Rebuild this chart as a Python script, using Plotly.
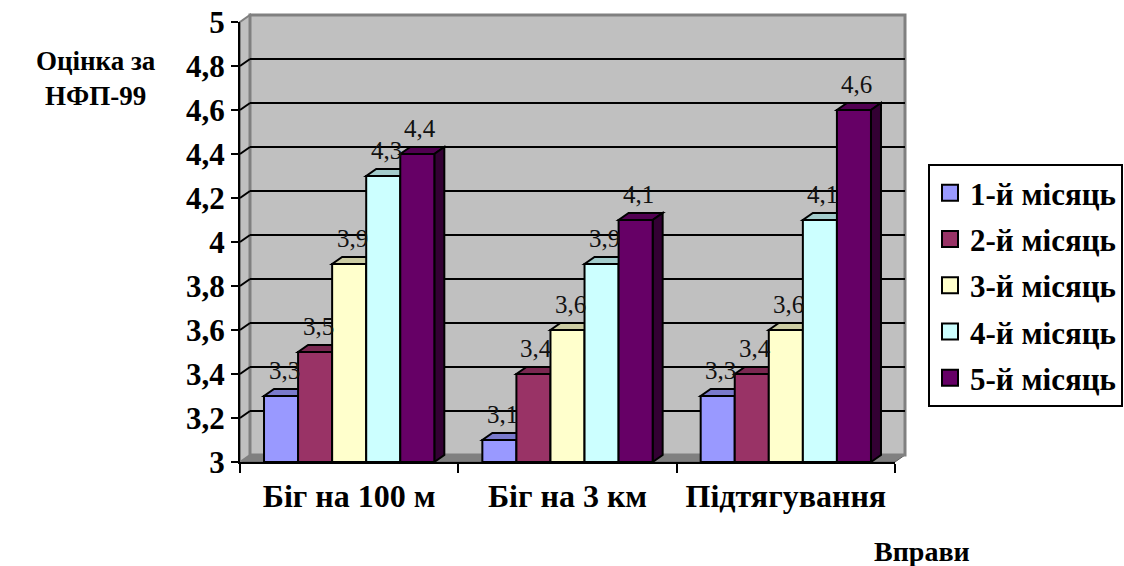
import plotly.graph_objects as go

# ---------------- data ----------------
categories = ["Біг на 100 м", "Біг на 3 км", "Підтягування"]
series_names = ["1-й місяць", "2-й місяць", "3-й місяць", "4-й місяць", "5-й місяць"]
month1 = [3.3, 3.1, 3.3]
month2 = [3.5, 3.4, 3.4]
month3 = [3.9, 3.6, 3.6]
month4 = [4.3, 3.9, 4.1]
month5 = [4.4, 4.1, 4.6]
series_values = [month1, month2, month3, month4, month5]
y_ticks = [3, 3.2, 3.4, 3.6, 3.8, 4, 4.2, 4.4, 4.6, 4.8, 5]
y_title = "Оцінка за<br>НФП-99"
x_title = "Вправи"

# ---------------- style ----------------
colors = ["#9999FF", "#993366", "#FFFFCC", "#CCFFFF", "#660066"]
FONT = "Liberation Serif, Times New Roman, serif"
W, H = 1124, 566
L, R, T, B = 240, 229, 22, 104
PW, PH = W - L - R, H - T - B
DX, DY = 10, 7           # depth of the 3D effect in pixels
YMIN, YMAX = 3, 5
BARGAP = 0.22
n_ser = len(series_names)
bw = (1 - BARGAP) / n_ser
dx = DX * len(categories) / PW
dy = DY * (YMAX - YMIN) / PH


def shade(hx, f):
    hx = hx.lstrip("#")
    r, g, b = (int(hx[i:i + 2], 16) for i in (0, 2, 4))
    return "#%02x%02x%02x" % (int(r * f), int(g * f), int(b * f))


fig = go.Figure()
shapes = []
annotations = []

# walls / floor (paper coordinates)
px = lambda p: p / PW
py = lambda p: p / PH
shapes.append(dict(type="path", xref="paper", yref="paper", layer="below",
                   path=f"M0,0 L1,0 L{1 + px(DX)},{py(DY)} L{px(DX)},{py(DY)} Z",
                   fillcolor="#808080", line=dict(color="#606060", width=1)))
shapes.append(dict(type="path", xref="paper", yref="paper", layer="below",
                   path=f"M0,0 L0,1 L{px(DX)},{1 + py(DY)} L{px(DX)},{py(DY)} Z",
                   fillcolor="#c0c0c0", line=dict(color="#808080", width=2)))
shapes.append(dict(type="rect", xref="paper", yref="paper", layer="below",
                   x0=px(DX), x1=1 + px(DX), y0=py(DY), y1=1 + py(DY),
                   fillcolor="#c0c0c0", line=dict(color="#808080", width=3)))

# gridlines on the back wall + diagonals on the side wall
for v in y_ticks[1:-1]:
    shapes.append(dict(type="line", xref="paper", yref="y", layer="below",
                       ysizemode="pixel", yanchor=v, y0=DY, y1=DY,
                       x0=px(DX), x1=1 + px(DX),
                       line=dict(color="black", width=2)))
    shapes.append(dict(type="line", xref="paper", yref="y", layer="below",
                       ysizemode="pixel", yanchor=v, y0=0, y1=DY,
                       x0=0, x1=px(DX),
                       line=dict(color="black", width=2)))

# bars (front faces) + 3D top/side faces + value labels
for j, (name, vals) in enumerate(zip(series_names, series_values)):
    fig.add_trace(go.Bar(x=categories, y=[v - YMIN for v in vals], base=YMIN,
                         name=name, showlegend=False, hoverinfo="skip",
                         marker=dict(color=colors[j], line=dict(color="black", width=2))))
    for i, v in enumerate(vals):
        xc = i - (1 - BARGAP) / 2 + bw * (j + 0.5)
        xl, xr = xc - bw / 2, xc + bw / 2
        shapes.append(dict(type="path", xref="x", yref="y", layer="between",
                           path=f"M{xl},{v} L{xr},{v} L{xr + dx},{v + dy} L{xl + dx},{v + dy} Z",
                           fillcolor=shade(colors[j], 0.8), line=dict(color="black", width=2)))
        shapes.append(dict(type="path", xref="x", yref="y", layer="between",
                           path=f"M{xr},{YMIN} L{xr},{v} L{xr + dx},{v + dy} L{xr + dx},{YMIN + dy} Z",
                           fillcolor=shade(colors[j], 0.5), line=dict(color="black", width=2)))
        annotations.append(dict(x=xc, y=v, xref="x", yref="y", showarrow=False,
                                xanchor="center", yanchor="middle",
                                text=f"{v:g}".replace(".", ","), xshift=3, yshift=26,
                                font=dict(family=FONT, size=25, color="#111111")))

# legend entries
for j, name in enumerate(series_names):
    fig.add_trace(go.Scatter(x=[None], y=[None], mode="markers", name=name,
                             legendgroup=name, hoverinfo="skip",
                             marker=dict(symbol="square", size=16, color=colors[j],
                                         line=dict(color="black", width=2))))

annotations.append(dict(x=(96 - L) / PW, y=(H - B - 79) / PH, xref="paper", yref="paper",
                        xanchor="center", yanchor="middle",
                        showarrow=False, text=y_title, align="center",
                        font=dict(family=FONT, size=27, color="black", weight="bold")))
annotations.append(dict(x=(922 - L) / PW, y=(H - B - 551) / PH, xref="paper", yref="paper",
                        xanchor="center", yanchor="middle",
                        showarrow=False, text=x_title,
                        font=dict(family=FONT, size=28, color="black", weight="bold")))

fig.update_layout(
    width=W, height=H,
    margin=dict(l=L, r=R, t=T, b=B, autoexpand=False),
    paper_bgcolor="white", plot_bgcolor="rgba(0,0,0,0)",
    barmode="group", bargap=BARGAP, bargroupgap=0,
    separators=", ",
    shapes=shapes, annotations=annotations,
    showlegend=True,
    legend=dict(x=(928 - L) / PW, y=(H - B - 164) / PH, xanchor="left", yanchor="top",
                bordercolor="black", borderwidth=2, bgcolor="white",
                tracegroupgap=3,
                font=dict(family=FONT, size=31, color="black", weight="bold"),
                itemclick=False, itemdoubleclick=False),
    xaxis=dict(type="category", range=[-0.5, 2.5], showgrid=False,
               showline=True, linecolor="black", linewidth=2,
               ticks="outside", tickson="boundaries", ticklen=9, tickwidth=2, tickcolor="black",
               tickfont=dict(family=FONT, size=32, color="black", weight="bold"),
               ticklabelstandoff=5, fixedrange=True),
    yaxis=dict(range=[YMIN, YMAX], tickvals=y_ticks, showgrid=False, zeroline=False,
               showline=True, linecolor="black", linewidth=2,
               ticks="outside", ticklen=7, tickwidth=2, tickcolor="black",
               tickfont=dict(family=FONT, size=31, color="black", weight="bold"),
               fixedrange=True),
)

fig.write_html("out.html")
